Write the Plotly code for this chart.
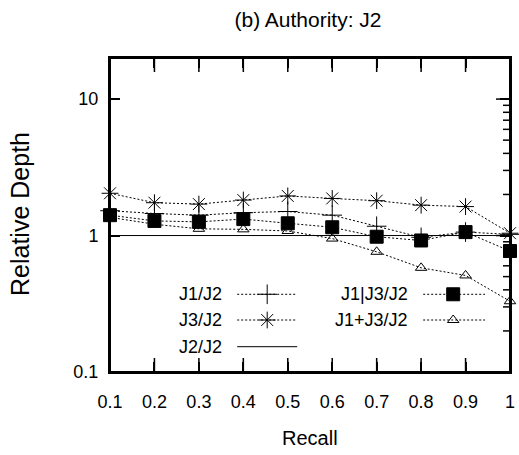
import plotly.graph_objects as go

recall = [0.1, 0.2, 0.3, 0.4, 0.5, 0.6, 0.7, 0.8, 0.9, 1.0]
x_tick_vals = [0.1, 0.2, 0.3, 0.4, 0.5, 0.6, 0.7, 0.8, 0.9, 1.0]
x_tick_text = ["0.1", "0.2", "0.3", "0.4", "0.5", "0.6", "0.7", "0.8", "0.9", "1"]
y_tick_vals = [0.1, 1, 10]
y_tick_text = ["0.1", "1", "10"]
y_minor_vals = [0.2, 0.3, 0.4, 0.5, 0.6, 0.7, 0.8, 0.9,
                2, 3, 4, 5, 6, 7, 8, 9]

j1_j2 = [1.52, 1.45, 1.41, 1.47, 1.50, 1.41, 1.17, 0.97, 1.06, 1.02]
j3_j2 = [2.04, 1.74, 1.70, 1.82, 1.95, 1.87, 1.80, 1.67, 1.63, 1.04]
j2_j2 = [1, 1, 1, 1, 1, 1, 1, 1, 1, 1]
j1orj3_j2 = [1.41, 1.28, 1.26, 1.32, 1.23, 1.15, 0.98, 0.92, 1.06, 0.77]
j1andj3_j2 = [1.36, 1.21, 1.12, 1.11, 1.08, 0.95, 0.76, 0.58, 0.51, 0.33]

names = ["J1/J2", "J3/J2", "J2/J2", "J1|J3/J2", "J1+J3/J2"]
series = [j1_j2, j3_j2, j2_j2, j1orj3_j2, j1andj3_j2]
symbols = ["cross-thin-open", "asterisk-open", None, "square", "triangle-up-open"]
sizes = [14, 14, 0, 13, 10]
dashes = ["2px,2px", "2px,2px", "solid", "2px,2px", "2px,2px"]

FONT = "Liberation Sans, Arial, Helvetica, sans-serif"
X_MIN, X_MAX = 0.1, 1.0
Y_LOG_MIN, Y_LOG_MAX = -1, 1.301

fig = go.Figure()

# Inside tick marks on the bottom, top and right edges (half of each mark is clipped away)
tick_mark = dict(color="black", line=dict(color="black", width=1.5))
fig.add_trace(go.Scatter(x=x_tick_vals + x_tick_vals,
                         y=[10 ** Y_LOG_MIN] * len(x_tick_vals) + [10 ** Y_LOG_MAX] * len(x_tick_vals),
                         mode="markers", marker=dict(symbol="line-ns", size=20, **tick_mark),
                         showlegend=False, hoverinfo="skip", cliponaxis=True))
fig.add_trace(go.Scatter(x=[X_MAX] * len(y_tick_vals), y=y_tick_vals,
                         mode="markers", marker=dict(symbol="line-ew", size=20, **tick_mark),
                         showlegend=False, hoverinfo="skip", cliponaxis=True))
fig.add_trace(go.Scatter(x=[X_MAX] * len(y_minor_vals), y=y_minor_vals,
                         mode="markers", marker=dict(symbol="line-ew", size=10, **tick_mark),
                         showlegend=False, hoverinfo="skip", cliponaxis=True))

for name, ys, sym, sz, dsh in zip(names, series, symbols, sizes, dashes):
    mode = "lines" if sym is None else "lines+markers"
    marker = dict(color="black", size=sz, symbol=sym, line=dict(color="black", width=1)) if sym else None
    fig.add_trace(go.Scatter(x=recall, y=ys, mode=mode, name=name,
                             line=dict(color="black", width=1, dash=dsh),
                             marker=marker, showlegend=False, cliponaxis=False))

# Legend (gnuplot style: text left of sample); positions given as plot-area fractions
leg_rows = [0.2475, 0.1656, 0.0806]
leg_cols = [dict(text_x=0.285, x0=0.318, x1=0.468, mx=0.393),
            dict(text_x=0.75, x0=0.783, x1=0.9375, mx=0.858)]
leg_layout = [(0, 0), (0, 1), (0, 2), (1, 0), (1, 1)]
for (ci, ri), name, sym, sz, dsh in zip(leg_layout, names, symbols, sizes, dashes):
    c = leg_cols[ci]
    yv = leg_rows[ri]
    fig.add_shape(type="line", xref="paper", yref="paper", x0=c["x0"], x1=c["x1"], y0=yv, y1=yv,
                  line=dict(color="black", width=1, dash=dsh))
    if sym:
        fig.add_trace(go.Scatter(x=[X_MIN + (X_MAX - X_MIN) * c["mx"]],
                                 y=[10 ** (Y_LOG_MIN + (Y_LOG_MAX - Y_LOG_MIN) * yv)],
                                 mode="markers",
                                 marker=dict(color="black", size=sz, symbol=sym,
                                             line=dict(color="black", width=1)),
                                 showlegend=False, hoverinfo="skip", cliponaxis=False))
    fig.add_annotation(x=c["text_x"], y=yv, xref="paper", yref="paper", text=name,
                       showarrow=False, xanchor="right", yanchor="middle",
                       font=dict(family=FONT, size=18, color="black"))

# Plot frame, drawn as four separate edges
for (fx0, fy0, fx1, fy1) in [(0, 0, 1, 0), (0, 1, 1, 1), (0, 0, 0, 1), (1, 0, 1, 1)]:
    fig.add_shape(type="line", xref="paper", yref="paper", x0=fx0, y0=fy0, x1=fx1, y1=fy1,
                  line=dict(color="black", width=2), layer="above")

axis_common = dict(showline=True, linecolor="black", linewidth=2, mirror="ticks",
                   ticks="inside", tickcolor="black", tickwidth=1.5, showgrid=False,
                   zeroline=False, automargin=False,
                   tickfont=dict(family=FONT, size=18, color="black"))

fig.update_layout(
    width=519, height=455, autosize=False,
    margin=dict(l=110, r=9, t=58, b=83, autoexpand=False),
    plot_bgcolor="white", paper_bgcolor="white",
    xaxis=dict(range=[X_MIN, X_MAX], tickvals=x_tick_vals, ticktext=x_tick_text,
               ticklen=10, ticklabelstandoff=12, **axis_common),
    yaxis=dict(type="log", range=[Y_LOG_MIN, Y_LOG_MAX], tickvals=y_tick_vals, ticktext=y_tick_text,
               ticklen=10, ticklabelstandoff=6, **axis_common),
    # minor log ticks on an overlaid axis with the same range
    yaxis2=dict(type="log", range=[Y_LOG_MIN, Y_LOG_MAX], overlaying="y", side="left",
                tickvals=y_minor_vals, showticklabels=False, ticks="inside", ticklen=5,
                tickcolor="black", tickwidth=1.5, showline=False, mirror="ticks",
                showgrid=False, zeroline=False, automargin=False, fixedrange=True),
    title=dict(text="(b) Authority: J2", x=308 / 519, xref="container", xanchor="center",
               y=1 - 20 / 455, yref="container", yanchor="middle",
               font=dict(family=FONT, size=21, color="black")),
)
fig.add_annotation(text="Recall", x=(310 - 110) / 400, y=(372 - 438) / 314, xref="paper", yref="paper",
                   showarrow=False, xanchor="center", yanchor="middle",
                   font=dict(family=FONT, size=20, color="black"))
fig.add_annotation(text="Relative Depth", x=-90 / 400, y=(372 - 214) / 314, xref="paper", yref="paper",
                   showarrow=False, textangle=-90, xanchor="center", yanchor="middle",
                   font=dict(family=FONT, size=25, color="black"))

fig.write_html("out.html", config={"displayModeBar": False},
               post_script="document.body.style.margin='0px';")
